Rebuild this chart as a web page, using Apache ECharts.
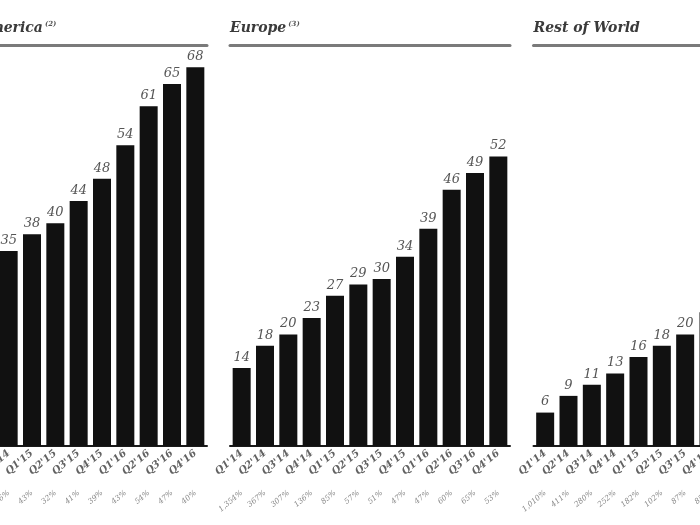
<!DOCTYPE html>
<html>
<head>
<meta charset="utf-8">
<script src="https://cdn.jsdelivr.net/npm/echarts@6/dist/echarts.min.js"></script>
<style>
html,body{margin:0;padding:0;width:700px;height:525px;overflow:hidden;background:#fff;}
#chart{position:absolute;left:-100px;top:0;width:1000px;height:525px;}
</style>
</head>
<body>
<div id="chart"></div>
<script>
const categories = ["Q1'14","Q2'14","Q3'14","Q4'14","Q1'15","Q2'15","Q3'15","Q4'15","Q1'16","Q2'16","Q3'16","Q4'16"];
const naValues  = [25, 29, 32, 35, 38, 40, 44, 48, 54, 61, 65, 68];
const euValues  = [14, 18, 20, 23, 27, 29, 30, 34, 39, 46, 49, 52];
const rowValues = [6, 9, 11, 13, 16, 18, 20, 24, 28, 33, 37, 40];
const naGrowth  = ["102%","74%","55%","36%","43%","32%","41%","39%","43%","54%","47%","40%"];
const euGrowth  = ["1,354%","367%","307%","136%","85%","57%","51%","47%","47%","60%","65%","53%"];
const rowGrowth = ["1,010%","411%","280%","252%","182%","102%","87%","85%","75%","83%","85%","67%"];
const panelNames = ["North America", "Europe", "Rest of World"];
const panelNotes = ["(2)", "(3)", ""];

const panels = [
  {values: naValues, growth: naGrowth},
  {values: euValues, growth: euGrowth},
  {values: rowValues, growth: rowGrowth}
];
const gridLefts = [27, 330, 633.5];
const serif = "DejaVu Serif";

const chart = echarts.init(document.getElementById('chart'));
const option = {
  animation: false,
  backgroundColor: '#fff',
  title: panelNames.map((n, i) => ({
    text: '{a|' + n + '}' + (panelNotes[i] ? '{s|' + panelNotes[i] + '}' : ''),
    left: gridLefts[i], top: 21, padding: 0,
    textStyle: {
      rich: {
        a: {fontFamily: serif, fontStyle: 'italic', fontWeight: 'bold', fontSize: 14, color: '#3a3a3a'},
        s: {fontFamily: serif, fontStyle: 'italic', fontSize: 7, color: '#555', verticalAlign: 'top', padding: [0, 0, 8, 2]}
      }
    }
  })),
  grid: gridLefts.map(l => ({left: l, width: 280, top: 45, height: 401})),
  xAxis: [],
  yAxis: [],
  series: []
};
panels.forEach((p, i) => {
  option.xAxis.push({
    type: 'category', gridIndex: i, data: categories, position: 'bottom',
    axisLine: {show: true, lineStyle: {color: '#1a1a1a', width: 2}},
    axisTick: {show: false},
    axisLabel: {rotate: 40, margin: 6, fontFamily: serif, fontStyle: 'italic', fontWeight: 'bold', fontSize: 10, color: '#626262', interval: 0}
  });
  option.xAxis.push({
    type: 'category', gridIndex: i, data: p.growth, position: 'bottom', offset: 44,
    axisLine: {show: false}, axisTick: {show: false},
    axisLabel: {rotate: 40, margin: 2, fontFamily: serif, fontStyle: 'italic', fontSize: 7.5, color: '#888', interval: 0}
  });
  option.xAxis.push({
    type: 'category', gridIndex: i, data: categories, position: 'top',
    axisLine: {show: true, lineStyle: {color: '#7a7a7a', width: 3}},
    axisTick: {show: false}, axisLabel: {show: false}
  });
  option.yAxis.push({type: 'value', gridIndex: i, min: 0, max: 72, show: false, splitLine: {show: false}});
  option.series.push({
    type: 'bar', xAxisIndex: i * 3, yAxisIndex: i, data: p.values,
    barWidth: 18,
    itemStyle: {color: '#111'},
    label: {show: true, position: 'top', distance: 4, fontFamily: serif, fontStyle: 'italic', fontSize: 13, color: '#555'}
  });
});
chart.setOption(option);
</script>
</body>
</html>
